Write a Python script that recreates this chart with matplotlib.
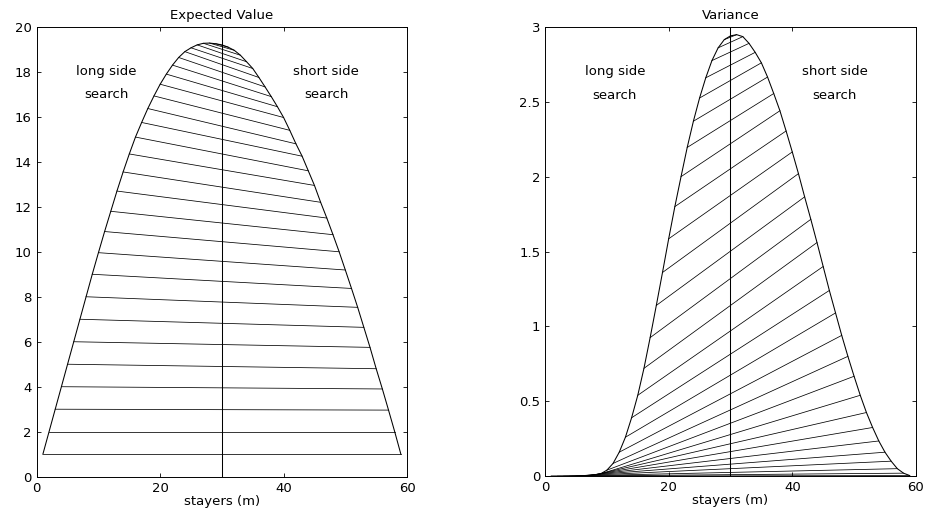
"""Expected value and variance against number of stayers, with chords joining
m and 60-m. Values read off the reference figure. Agg, MATLAB look."""
import matplotlib
matplotlib.use("Agg")
import matplotlib.pyplot as plt  # noqa: E402
import numpy as np  # noqa: E402

FS = 9.5
plt.rcParams.update({
    "font.family": ["DejaVu Sans"],
    "font.size": FS,
    "axes.linewidth": 0.7,
    "xtick.direction": "in", "ytick.direction": "in",
    "xtick.top": True, "ytick.right": True,
    "xtick.major.size": 3.2, "ytick.major.size": 3.2,
    "xtick.major.width": 0.6, "ytick.major.width": 0.6,
    "xtick.major.pad": 3.5, "ytick.major.pad": 3.5,
})

# stayers m = 1..59
m = np.arange(1, 60)
expected = [1.0, 2.0, 3.0, 4.0, 5.0, 6.0, 7.0, 8.0, 9.0, 9.96,
            10.9, 11.8, 12.7, 13.55, 14.35, 15.1, 15.75, 16.37, 16.93, 17.45,
            17.9, 18.3, 18.64, 18.9, 19.07, 19.2, 19.27, 19.28, 19.25, 19.2,
            19.1, 18.96, 18.74, 18.45, 18.15, 17.75, 17.33, 16.9, 16.45, 15.97,
            15.4, 14.8, 14.25, 13.6, 12.95, 12.2, 11.5, 10.76, 10.0, 9.19,
            8.37, 7.53, 6.64, 5.75, 4.8, 3.9, 2.96, 2.0, 1.0]
variance = [0.0, 0.0, 0.0, 0.0, 0.0005, 0.001, 0.003, 0.008, 0.016, 0.04,
            0.085, 0.16, 0.26, 0.39, 0.54, 0.72, 0.925, 1.14, 1.36, 1.585,
            1.80, 2.0, 2.195, 2.37, 2.525, 2.66, 2.775, 2.86, 2.915, 2.94,
            2.948, 2.935, 2.89, 2.83, 2.76, 2.665, 2.555, 2.44, 2.305, 2.165,
            2.02, 1.865, 1.715, 1.56, 1.4, 1.24, 1.09, 0.94, 0.80, 0.667,
            0.54, 0.425, 0.325, 0.235, 0.16, 0.10, 0.05, 0.02, 0.004]
N = 60
titles = ["Expected Value", "Variance"]
ylims = [(0, 20), (0, 3)]
yticks = [np.arange(0, 21, 2), [0, 0.5, 1, 1.5, 2, 2.5, 3]]
ytick_labels = [None, ["0", "0.5", "1", "1.5", "2", "2.5", "3"]]
label_y = [(18.0, 17.0), (2.70, 2.545)]


def panel(ax, y, title, ylim, ticks, tlabels, ly):
    y = np.asarray(y)
    # chords joining m and N-m
    for k in range(1, N // 2):
        i, j = k - 1, N - k - 1
        ax.plot([m[i], m[j]], [y[i], y[j]], "-", color="black", lw=0.55)
    ax.plot(m, y, "-", color="black", lw=0.75)
    ax.axvline(N / 2, color="black", lw=0.75)
    ax.set_xlim(0, 60)
    ax.set_ylim(*ylim)
    ax.set_xticks([0, 20, 40, 60])
    ax.set_yticks(ticks)
    if tlabels is not None:
        ax.set_yticklabels(tlabels)
    ax.set_title(title, fontsize=FS, pad=6)
    ax.set_xlabel("stayers (m)", fontsize=FS, labelpad=0)
    ax.text(11.3, ly[0], "long side", ha="center", va="center")
    ax.text(11.3, ly[1], "search", ha="center", va="center")
    ax.text(46.9, ly[0], "short side", ha="center", va="center")
    ax.text(46.9, ly[1], "search", ha="center", va="center")


def main():
    fig = plt.figure(figsize=(9.27, 5.17), dpi=100)
    ax0 = fig.add_axes([0.0396, 0.078, 0.3995, 0.870])
    ax1 = fig.add_axes([0.588, 0.079, 0.400, 0.869])
    for ax, y, t, yl, tk, tl, ly in zip((ax0, ax1), (expected, variance), titles,
                                         ylims, yticks, ytick_labels, label_y):
        panel(ax, y, t, yl, tk, tl, ly)
    fig.savefig("out.png", dpi=100)


if __name__ == "__main__":
    main()
